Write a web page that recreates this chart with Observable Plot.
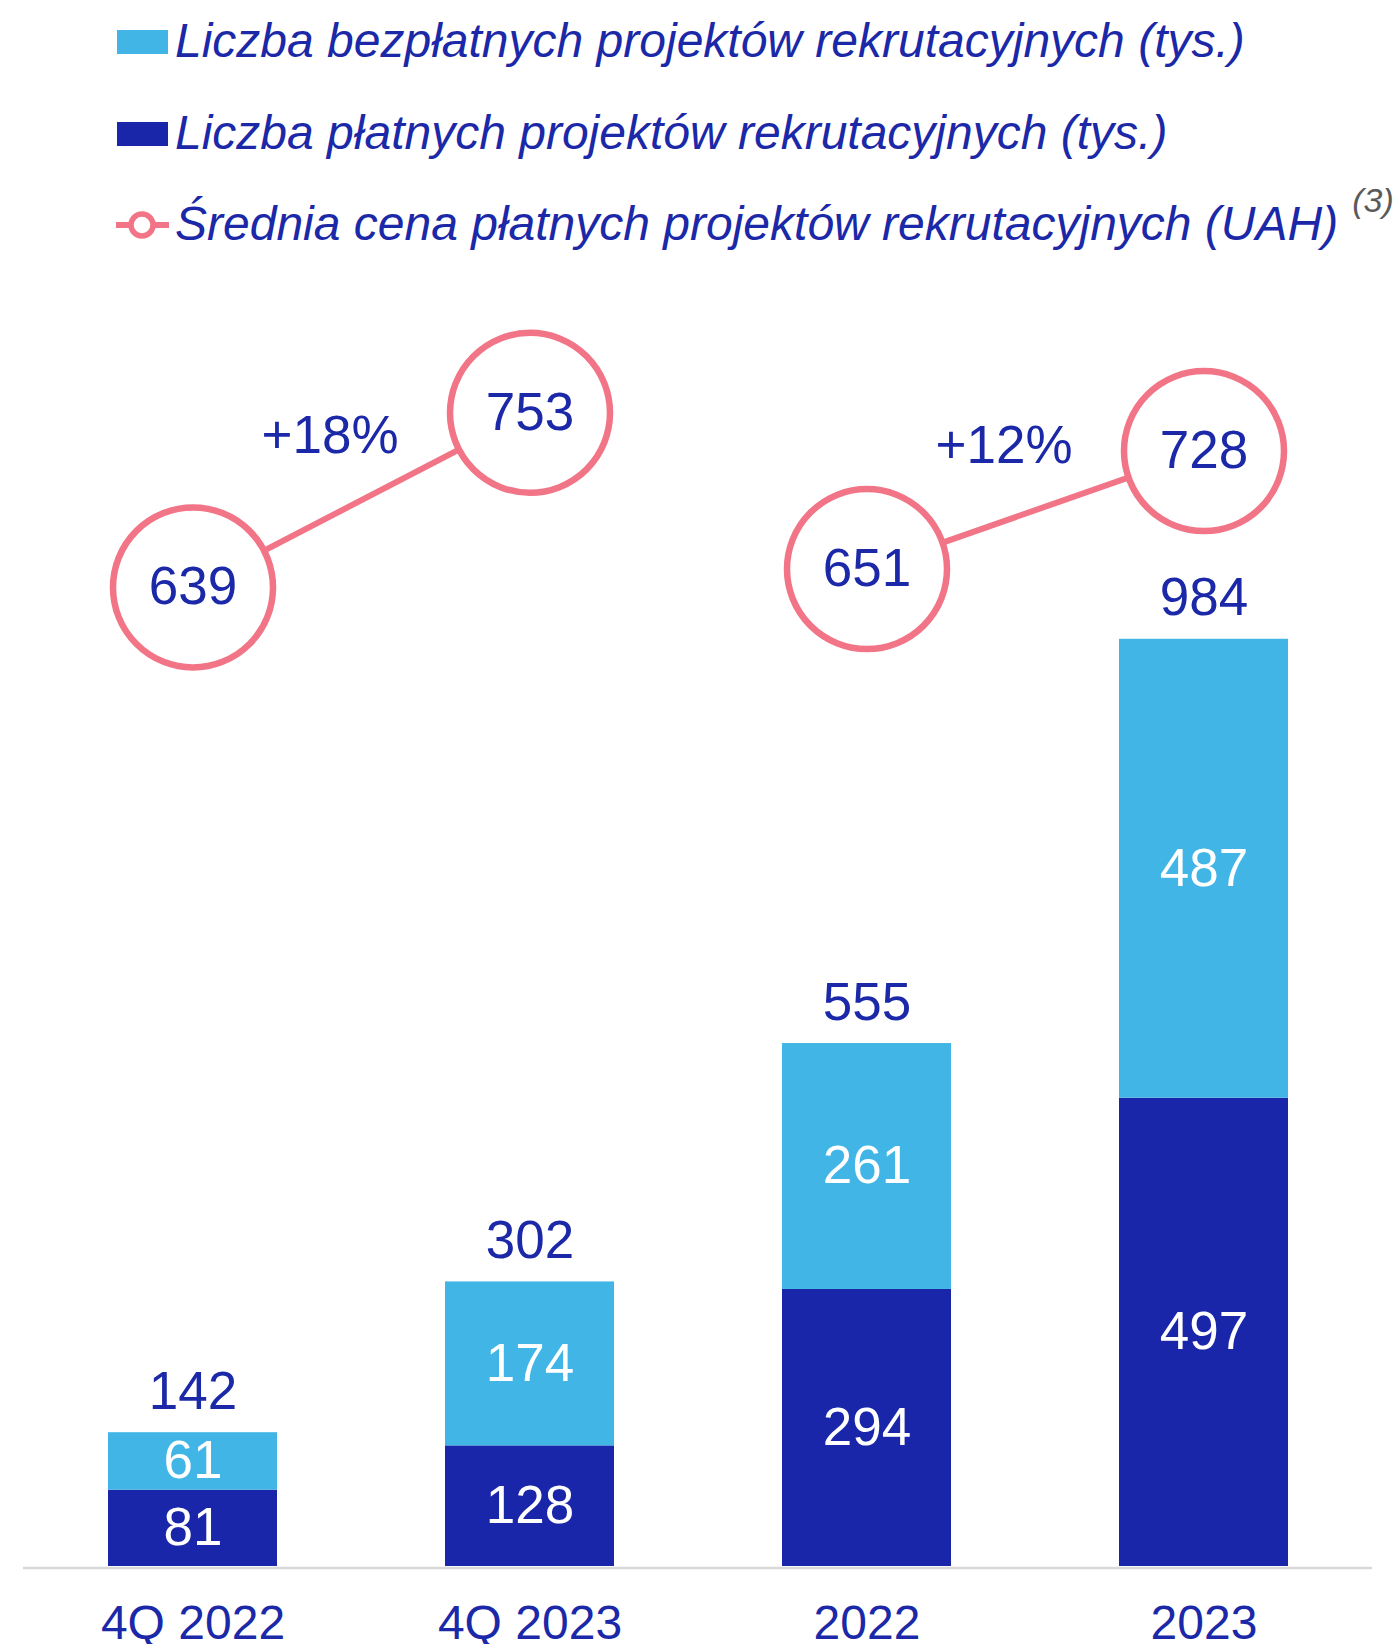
<!DOCTYPE html>
<html>
<head>
<meta charset="utf-8">
<script src="https://cdn.jsdelivr.net/npm/d3@7"></script>
<script src="https://cdn.jsdelivr.net/npm/@observablehq/plot@0.6"></script>
<style>
  html, body { margin: 0; padding: 0; background: #ffffff; }
  body { width: 1397px; height: 1644px; overflow: hidden; font-family: "Liberation Sans", Arial, sans-serif; }
  #legend { position: relative; width: 1397px; height: 260px; }
  .row { position: absolute; left: 0; width: 1397px; height: 48px; }
  .sw { position: absolute; left: 117px; top: 13px; width: 51px; height: 24px; }
  .lbl { position: absolute; left: 175px; top: 0; font-size: 48px; line-height: 48px; font-style: italic; color: #1B28A8; white-space: nowrap; }
  .sup { font-size: 34px; color: #5a5a5a; position: relative; top: -28px; margin-left: 14px; }
  .mk { position: absolute; left: 114px; top: 5px; }
  #chart svg { display: block; overflow: visible; }
</style>
</head>
<body>
<div id="legend"></div>
<div id="chart"></div>
<script>
// ---- data ----
const categories = ["4Q 2022", "4Q 2023", "2022", "2023"];
const paidProjects = [81, 128, 294, 497];      // Liczba płatnych projektów (tys.)
const freeProjects = [61, 174, 261, 487];      // Liczba bezpłatnych projektów (tys.)
const totalProjects = [142, 302, 555, 984];
const avgPrice = [639, 753, 651, 728];         // Średnia cena (UAH)
const priceGroups = ["Q", "Q", "Y", "Y"];
const growthFrom = ["4Q 2022", "2022"];
const growthLabels = ["+18%", "+12%"];
const legendLabels = [
  "Liczba bezpłatnych projektów rekrutacyjnych (tys.)",
  "Liczba płatnych projektów rekrutacyjnych (tys.)",
  "Średnia cena płatnych projektów rekrutacyjnych (UAH)"
];

// ---- style ----
const LIGHT = "#41B6E6", DARK = "#1A26A9", PINK = "#F27587", TEXT = "#1B28A8";
const FONT = "Liberation Sans, Arial, sans-serif";

// ---- legend (HTML) ----
const legend = document.getElementById("legend");
const rowTops = [17, 109, 200];
legendLabels.forEach((t, i) => {
  const row = document.createElement("div");
  row.className = "row";
  row.style.top = rowTops[i] + "px";
  if (i < 2) {
    const sw = document.createElement("div");
    sw.className = "sw";
    sw.style.background = i === 0 ? LIGHT : DARK;
    row.appendChild(sw);
  } else {
    const ns = "http://www.w3.org/2000/svg";
    const s = document.createElementNS(ns, "svg");
    s.setAttribute("class", "mk");
    s.setAttribute("width", 58); s.setAttribute("height", 40);
    const ln = document.createElementNS(ns, "line");
    ln.setAttribute("x1", 2); ln.setAttribute("x2", 55); ln.setAttribute("y1", 20); ln.setAttribute("y2", 20);
    ln.setAttribute("stroke", PINK); ln.setAttribute("stroke-width", 6);
    const c = document.createElementNS(ns, "circle");
    c.setAttribute("cx", 28); c.setAttribute("cy", 20); c.setAttribute("r", 11);
    c.setAttribute("fill", "#fff"); c.setAttribute("stroke", PINK); c.setAttribute("stroke-width", 5.5);
    s.appendChild(ln); s.appendChild(c);
    row.appendChild(s);
  }
  const lbl = document.createElement("div");
  lbl.className = "lbl";
  lbl.textContent = t;
  if (i === 2) {
    const sup = document.createElement("span");
    sup.className = "sup";
    sup.textContent = "(3)";
    lbl.appendChild(sup);
  }
  row.appendChild(lbl);
  legend.appendChild(row);
});

// ---- tables built from the arrays ----
const stacked = categories.flatMap((c, i) => [
  {cat: c, series: "paid", value: paidProjects[i]},
  {cat: c, series: "free", value: freeProjects[i]}
]);
const totals = categories.map((c, i) => ({cat: c, total: totalProjects[i]}));
const prices = categories.map((c, i) => ({cat: c, price: avgPrice[i], group: priceGroups[i]}));
const growth = growthFrom.map((f, i) => {
  const j = categories.indexOf(f);
  return {cat: f, mid: (avgPrice[j] + avgPrice[j + 1]) / 2, label: growthLabels[i]};
});

// price is drawn on a secondary scale mapped into bar units
const K = 1.626;

const chart = Plot.plot({
  width: 1397,
  height: 1384,
  marginTop: 0,
  marginBottom: 78,
  marginLeft: 23,
  marginRight: 25,
  style: {fontFamily: FONT, background: "#ffffff"},
  x: {domain: categories, paddingInner: 0.5, paddingOuter: 0.25, label: null},
  y: {domain: [0, 1386], axis: null},
  color: {domain: ["paid", "free"], range: [DARK, LIGHT]},
  marks: [
    Plot.barY(stacked, {x: "cat", y: "value", fill: "series"}),
    Plot.ruleY([0], {stroke: "#d9d9d9", strokeWidth: 2.5, dy: 1.5}),
    Plot.text(stacked, Plot.stackY({x: "cat", y: "value", text: d => String(d.value), fill: "#ffffff", fontSize: 53})),
    Plot.text(totals, {x: "cat", y: "total", text: d => String(d.total), fill: TEXT, fontSize: 53, dy: -41}),
    Plot.line(prices, {x: "cat", y: d => d.price * K, z: "group", stroke: PINK, strokeWidth: 6}),
    Plot.dot(prices, {x: "cat", y: d => d.price * K, r: 80, fill: "#ffffff", stroke: PINK, strokeWidth: 6.5}),
    Plot.text(prices, {x: "cat", y: d => d.price * K, text: d => String(d.price), fill: TEXT, fontSize: 53}),
    Plot.text(growth, {x: "cat", y: d => d.mid * K, text: "label", fill: TEXT, fontSize: 53, dx: 137, dy: -64}),
    Plot.axisX({tickSize: 0, tickPadding: 38, fontSize: 48, fill: TEXT, label: null})
  ]
});
document.getElementById("chart").appendChild(chart);
</script>
</body>
</html>
